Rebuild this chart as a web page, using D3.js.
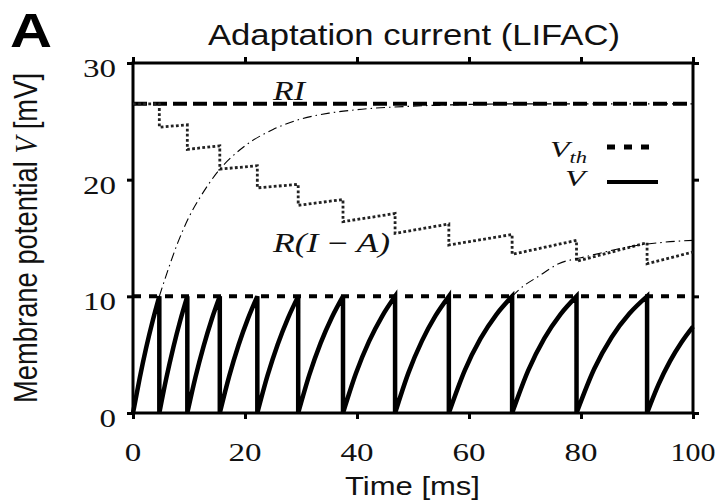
<!DOCTYPE html>
<html>
<head>
<meta charset="utf-8">
<script src="https://cdn.jsdelivr.net/npm/d3@7"></script>
<style>
  html, body { margin: 0; padding: 0; background: #fff; }
  svg { display: block; }
</style>
</head>
<body>
<svg id="chart" width="724" height="503"></svg>
<script>
// ---------------- data ----------------
const xTicks = [0, 20, 40, 60, 80, 100];
const yTicks = [0, 10, 20, 30];
const RI = 26.5;          // RI level [mV]
const Vth = 10;           // threshold [mV]
const spikeTimes = [4.7, 9.7, 15.5, 22.2, 29.5, 37.5, 46.8, 56.4, 67.7, 79.2, 91.8];

// membrane potential V, one array per inter-spike interval [t ms, V mV]
const vSeg0  = [[0, 0], [1.18, 2.95], [2.35, 5.59], [3.53, 7.93], [4.7, 10]];
const vSeg1  = [[4.7, 0], [5.95, 2.99], [7.2, 5.62], [8.45, 7.95], [9.7, 10]];
const vSeg2  = [[9.7, 0], [11.15, 3.07], [12.6, 5.72], [14.05, 8.02], [15.5, 10]];
const vSeg3  = [[15.5, 0], [17.18, 3.16], [18.85, 5.83], [20.53, 8.09], [22.2, 10]];
const vSeg4  = [[22.2, 0], [24.03, 3.22], [25.85, 5.9], [27.68, 8.14], [29.5, 10]];
const vSeg5  = [[29.5, 0], [31.5, 3.29], [33.5, 5.99], [35.5, 8.19], [37.5, 10]];
const vSeg6  = [[37.5, 0], [39.83, 3.43], [42.15, 6.14], [44.48, 8.29], [46.8, 10]];
const vSeg7  = [[46.8, 0], [49.2, 3.46], [51.6, 6.18], [54.0, 8.32], [56.4, 10]];
const vSeg8  = [[56.4, 0], [59.23, 3.64], [62.05, 6.37], [64.88, 8.44], [67.7, 10]];
const vSeg9  = [[67.7, 0], [70.58, 3.66], [73.45, 6.4], [76.33, 8.46], [79.2, 10]];
const vSeg10 = [[79.2, 0], [82.35, 3.77], [85.5, 6.52], [88.65, 8.53], [91.8, 10]];
const vSeg11 = [[91.8, 0], [93.85, 2.45], [95.9, 4.44], [97.95, 6.06], [100, 7.4]];
const vSegments = [vSeg0, vSeg1, vSeg2, vSeg3, vSeg4, vSeg5, vSeg6, vSeg7, vSeg8, vSeg9, vSeg10, vSeg11];

// R(I - A) staircase
const rIAStairs = [[0, 26.5], [4.7, 26.5], [4.7, 24.5], [9.7, 24.7], [9.7, 22.6], [15.5, 22.9],
  [15.5, 20.9], [22.2, 21.2], [22.2, 19.3], [29.5, 19.6], [29.5, 17.8], [37.5, 18.3],
  [37.5, 16.4], [46.8, 17.1], [46.8, 15.4], [56.4, 16.2], [56.4, 14.4], [67.7, 15.3],
  [67.7, 13.6], [79.2, 14.8], [79.2, 13.0], [91.8, 14.6], [91.8, 12.8], [100, 13.8]];

// free (no-reset) trajectories, dash-dot
const freeTraj1 = [[4.7, 10], [6, 11.9], [8, 14.6], [10, 16.8], [12, 18.5], [15, 20.6], [20, 22.9],
  [25, 24.3], [30, 25.2], [35, 25.7], [40, 26.0], [50, 26.3], [60, 26.45], [70, 26.5], [100, 26.5]];
const freeTraj2 = [[67.7, 10], [69, 10.6], [72.7, 11.8], [76, 12.8], [80, 13.3], [83.4, 13.7],
  [88, 14.2], [94, 14.6], [100, 14.8]];

// ---------------- drawing ----------------
const svg = d3.select("#chart");
const x = d3.scaleLinear().domain([0, 100]).range([133, 693]);
const y = d3.scaleLinear().domain([0, 30]).range([413, 63]);

const SANS = "'Liberation Sans', Arial, Helvetica, sans-serif";
const SERIF = "'Liberation Serif', 'Times New Roman', serif";

// axes (ticks outward on all four sides)
function styleAxis(g) {
  g.select(".domain").remove();
  g.selectAll(".tick line").attr("stroke", "#000").attr("stroke-width", 3);
}
svg.append("g").attr("transform", `translate(${x(0)},0)`)
  .call(d3.axisLeft(y).tickValues(yTicks).tickSize(6).tickFormat(""))
  .call(styleAxis);
svg.append("g").attr("transform", `translate(${x(100)},0)`)
  .call(d3.axisRight(y).tickValues(yTicks).tickSize(6).tickFormat(""))
  .call(styleAxis);
svg.append("g").attr("transform", `translate(0,${y(0)})`)
  .call(d3.axisBottom(x).tickValues(xTicks).tickSize(6).tickFormat(""))
  .call(styleAxis);
svg.append("g").attr("transform", `translate(0,${y(30)})`)
  .call(d3.axisTop(x).tickValues(xTicks).tickSize(6).tickFormat(""))
  .call(styleAxis);

// frame
svg.append("rect")
  .attr("x", x(0)).attr("y", y(30))
  .attr("width", x(100) - x(0)).attr("height", y(0) - y(30))
  .attr("fill", "none").attr("stroke", "#000").attr("stroke-width", 3);

// tick labels
const digitW = {1: 16.5, 2: 33, 3: 45};
svg.append("g").selectAll("text").data(yTicks).join("text")
  .attr("x", 116).attr("y", d => y(d) + 14)
  .attr("text-anchor", "end")
  .attr("font-family", SERIF).attr("font-size", 25).attr("fill", "#111")
  .attr("textLength", d => digitW[String(d).length]).attr("lengthAdjust", "spacingAndGlyphs")
  .text(d => d);
svg.append("g").selectAll("text").data(xTicks).join("text")
  .attr("x", d => x(d)).attr("y", 461)
  .attr("text-anchor", "middle")
  .attr("font-family", SERIF).attr("font-size", 25).attr("fill", "#111")
  .attr("textLength", d => digitW[String(d).length]).attr("lengthAdjust", "spacingAndGlyphs")
  .text(d => d);

const line = d3.line().x(d => x(d[0])).y(d => y(d[1]));

// RI dashed line
svg.append("path").datum([[0, RI], [100, RI]])
  .attr("d", line).attr("fill", "none").attr("stroke", "#000")
  .attr("stroke-width", 4).attr("stroke-dasharray", "14,6");

// threshold
svg.append("path").datum([[0, Vth], [100, Vth]])
  .attr("d", line).attr("fill", "none").attr("stroke", "#000")
  .attr("stroke-width", 4).attr("stroke-dasharray", "8,8");

// staircase R(I-A)
svg.append("path").datum(rIAStairs)
  .attr("d", line).attr("fill", "none").attr("stroke", "#222")
  .attr("stroke-width", 2.8).attr("stroke-dasharray", "2.8,2.3");

// dash-dot free trajectories
const smooth = d3.line().x(d => x(d[0])).y(d => y(d[1])).curve(d3.curveMonotoneX);
[freeTraj1, freeTraj2].forEach(tr => {
  svg.append("path").datum(tr)
    .attr("d", smooth).attr("fill", "none").attr("stroke", "#000")
    .attr("stroke-width", 1.1).attr("stroke-dasharray", "9,4,1.5,4");
});

// V trace (segments joined through the reset at each spike)
const vPath = vSegments.map((seg, i) => {
  const s = smooth(seg);
  return i === 0 ? s : "L" + s.slice(1);
}).join("");
svg.append("path").attr("d", vPath)
  .attr("fill", "none").attr("stroke", "#000")
  .attr("stroke-width", 4.5).attr("stroke-linejoin", "miter").attr("stroke-miterlimit", 3.5);

// curve labels
svg.append("text").attr("x", 273).attr("y", 100)
  .attr("font-family", SERIF).attr("font-style", "italic").attr("font-size", 27).attr("fill", "#111")
  .attr("textLength", 32).attr("lengthAdjust", "spacingAndGlyphs")
  .text("RI");
svg.append("text").attr("x", 273).attr("y", 252)
  .attr("font-family", SERIF).attr("font-style", "italic").attr("font-size", 27).attr("fill", "#111")
  .attr("textLength", 117).attr("lengthAdjust", "spacingAndGlyphs")
  .text("R(I\u2009\u2212\u2009A)");

// legend
const leg1 = svg.append("text").attr("x", 550).attr("y", 157)
  .attr("font-family", SERIF).attr("font-style", "italic").attr("font-size", 24).attr("fill", "#111")
  .attr("textLength", 37).attr("lengthAdjust", "spacingAndGlyphs");
leg1.append("tspan").text("V");
leg1.append("tspan").attr("dy", 6).attr("font-size", 17).text("th");
svg.append("text").attr("x", 565).attr("y", 186)
  .attr("font-family", SERIF).attr("font-style", "italic").attr("font-size", 23).attr("fill", "#111")
  .attr("textLength", 20).attr("lengthAdjust", "spacingAndGlyphs")
  .text("V");
svg.append("line").attr("x1", 607).attr("x2", 658).attr("y1", 147).attr("y2", 147)
  .attr("stroke", "#000").attr("stroke-width", 5).attr("stroke-dasharray", "8,9");
svg.append("line").attr("x1", 607).attr("x2", 658).attr("y1", 182).attr("y2", 182)
  .attr("stroke", "#000").attr("stroke-width", 4);

// titles
svg.append("text").attr("x", 10).attr("y", 47)
  .attr("font-family", SANS).attr("font-weight", "bold").attr("font-size", 49).attr("fill", "#000")
  .attr("textLength", 42).attr("lengthAdjust", "spacingAndGlyphs")
  .text("A");
svg.append("text").attr("x", 208).attr("y", 45)
  .attr("font-family", SANS).attr("font-size", 30).attr("fill", "#111")
  .attr("textLength", 412).attr("lengthAdjust", "spacingAndGlyphs")
  .text("Adaptation current (LIFAC)");
svg.append("text").attr("x", 345).attr("y", 495)
  .attr("font-family", SANS).attr("font-size", 25).attr("fill", "#111")
  .attr("textLength", 135).attr("lengthAdjust", "spacingAndGlyphs")
  .text("Time [ms]");
const yl = svg.append("text")
  .attr("transform", "translate(37,238) scale(1.3,1) rotate(-90)")
  .attr("text-anchor", "middle")
  .attr("font-family", SANS).attr("font-size", 25).attr("fill", "#111")
  .attr("textLength", 330).attr("lengthAdjust", "spacingAndGlyphs");
yl.append("tspan").text("Membrane potential ");
yl.append("tspan").attr("font-family", SERIF).attr("font-style", "italic").text("V");
yl.append("tspan").text(" [mV]");
</script>
</body>
</html>
